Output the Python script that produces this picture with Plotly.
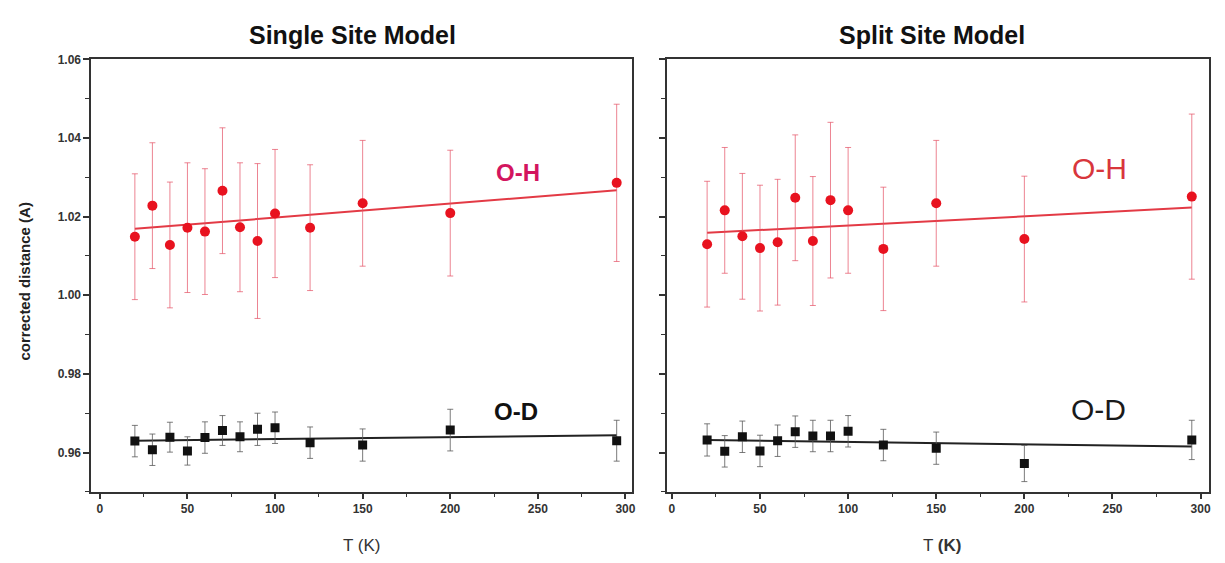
import plotly.graph_objects as go

# The page body has an 8px default margin, so the figure is made 16px smaller
# and every pixel position is measured from the figure's own corner.
OFF = 8
W, H = 1225 - 2 * OFF, 563 - 2 * OFF

# ---------------- data ----------------
T = [20, 30, 40, 50, 60, 70, 80, 90, 100, 120, 150, 200, 295]

# Single site model
single_OH = [1.0149, 1.0228, 1.0128, 1.0172, 1.0162, 1.0266, 1.0173, 1.0138, 1.0208, 1.0172, 1.0234, 1.0209, 1.0286]
single_OH_err = [0.016, 0.016, 0.016, 0.0165, 0.016, 0.016, 0.0164, 0.0197, 0.0163, 0.016, 0.016, 0.016, 0.020]
single_OD = [0.9629, 0.9607, 0.9639, 0.9604, 0.9638, 0.9656, 0.9640, 0.9659, 0.9663, 0.9625, 0.9619, 0.9657, 0.9630]
single_OD_err = [0.004, 0.004, 0.0038, 0.0036, 0.004, 0.0038, 0.0038, 0.0041, 0.004, 0.004, 0.0041, 0.0053, 0.0052]
single_fit_T = [20, 295]
single_fit_OH = [1.0169, 1.0267]
single_fit_OD = [0.9630, 0.9644]

# Split site model
split_OH = [1.0130, 1.0216, 1.0150, 1.0120, 1.0135, 1.0248, 1.0138, 1.0242, 1.0216, 1.0118, 1.0234, 1.0143, 1.0251]
split_OH_err = [0.016, 0.016, 0.016, 0.016, 0.016, 0.016, 0.0164, 0.0198, 0.016, 0.0157, 0.016, 0.016, 0.021]
split_OD = [0.9632, 0.9603, 0.9640, 0.9604, 0.9630, 0.9653, 0.9642, 0.9642, 0.9654, 0.9619, 0.9611, 0.9572, 0.9632]
split_OD_err = [0.0041, 0.004, 0.004, 0.004, 0.004, 0.004, 0.004, 0.004, 0.004, 0.004, 0.0041, 0.0046, 0.005]
split_fit_T = [20, 295]
split_fit_OH = [1.0159, 1.0223]
split_fit_OD = [0.9632, 0.9615]

x_ticks = [0, 50, 100, 150, 200, 250, 300]
y_ticks = [0.96, 0.98, 1.00, 1.02, 1.04, 1.06]
y_ticklabels = ["0.96", "0.98", "1.00", "1.02", "1.04", "1.06"]

# ---------------- styling ----------------
FONT = "Liberation Sans, Arial, sans-serif"
RED = "#e8121f"
RED_ERR = "rgba(228,80,100,0.7)"
RED_LINE = "#e33a45"
BLACK = "#111111"
GREY_ERR = "rgba(90,90,90,0.8)"
AX = "#333333"

fig = go.Figure()


def add_panel(xa, ya, oh, oh_err, od, od_err, fit_T, fit_oh, fit_od):
    fig.add_trace(go.Scatter(x=fit_T, y=fit_oh, mode="lines", xaxis=xa, yaxis=ya,
                             line=dict(color=RED_LINE, width=2), showlegend=False, hoverinfo="skip"))
    fig.add_trace(go.Scatter(x=fit_T, y=fit_od, mode="lines", xaxis=xa, yaxis=ya,
                             line=dict(color="#222222", width=2), showlegend=False, hoverinfo="skip"))
    fig.add_trace(go.Scatter(x=T, y=oh, mode="markers", xaxis=xa, yaxis=ya,
                             marker=dict(symbol="circle", size=10, color=RED),
                             error_y=dict(type="data", array=oh_err, visible=True,
                                          color=RED_ERR, thickness=1, width=3),
                             showlegend=False))
    fig.add_trace(go.Scatter(x=T, y=od, mode="markers", xaxis=xa, yaxis=ya,
                             marker=dict(symbol="square", size=9, color=BLACK),
                             error_y=dict(type="data", array=od_err, visible=True,
                                          color=GREY_ERR, thickness=1, width=3),
                             showlegend=False))


add_panel("x", "y", single_OH, single_OH_err, single_OD, single_OD_err,
          single_fit_T, single_fit_OH, single_fit_OD)
add_panel("x2", "y2", split_OH, split_OH_err, split_OD, split_OD_err,
          split_fit_T, split_fit_OH, split_fit_OD)

tickfont = dict(family=FONT, size=12, color=AX)


def fx(px):
    return (px - OFF) / W


def fy(py):
    return 1 - (py - OFF) / H


def xaxis(domain, rng, anchor):
    return dict(domain=domain, range=rng, anchor=anchor,
                tickmode="array", tickvals=x_ticks, ticktext=[f"<b>{v}</b>" for v in x_ticks],
                ticks="outside", ticklen=5, tickwidth=1.5, tickcolor=AX,
                minor=dict(ticks="outside", ticklen=3, dtick=25, tick0=0, tickcolor=AX, tickwidth=1.2),
                showline=True, linecolor=AX, linewidth=2, mirror=True,
                showgrid=False, zeroline=False, tickfont=tickfont)


def yaxis(domain, anchor, labels):
    return dict(domain=domain, range=[0.95, 1.06], anchor=anchor,
                tickmode="array", tickvals=y_ticks,
                ticktext=[f"<b>{t}</b>" for t in y_ticklabels],
                showticklabels=labels,
                ticks="outside", ticklen=6, tickwidth=1.5, tickcolor=AX,
                minor=dict(ticks="outside", ticklen=4, dtick=0.01, tick0=0.95, tickcolor=AX, tickwidth=1.2),
                showline=True, linecolor=AX, linewidth=2, mirror=True,
                showgrid=False, zeroline=False, tickfont=tickfont)


ydom = [fy(491), fy(53)]
fig.update_layout(
    width=W, height=H,
    margin=dict(l=0, r=0, t=0, b=0),
    paper_bgcolor="white", plot_bgcolor="white",
    font=dict(family=FONT, color=AX),
    xaxis=xaxis([fx(91.7), fx(634)], [-4.8, 303.7], "y"),
    yaxis=yaxis(ydom, "x", True),
    xaxis2=xaxis([fx(669.3), fx(1212.7)], [-2.7, 304.6], "y2"),
    yaxis2=yaxis(ydom, "x2", False),
)


def px_ann(text, x, y, size, color="#111111", bold=False, angle=0):
    fig.add_annotation(text=f"<b>{text}</b>" if bold else text,
                       x=fx(x), y=fy(y), xref="paper", yref="paper",
                       showarrow=False, textangle=angle, xanchor="center", yanchor="middle",
                       font=dict(family=FONT, size=size, color=color))


# panel titles
px_ann("Single Site Model", 354, 28, 25, "#111111", bold=True)
px_ann("Split Site Model", 935, 28, 25, "#111111", bold=True)
# axis titles
px_ann("corrected distance (A)", 25, 278, 15, "#222222", bold=True, angle=-90)
px_ann("T (K)", 363, 545, 17, "#333333")
px_ann("T <b>(K)</b>", 945, 545, 17, "#333333")

# series labels (data coordinates)
fig.add_annotation(text="<b>O-H</b>", x=238.8, y=1.0313, xref="x", yref="y", showarrow=False,
                   font=dict(family=FONT, size=24, color="#d3155f"))
fig.add_annotation(text="<b>O-D</b>", x=237.7, y=0.9705, xref="x", yref="y", showarrow=False,
                   font=dict(family=FONT, size=24, color="#111111"))
fig.add_annotation(text="O-H", x=242.8, y=1.0323, xref="x2", yref="y2", showarrow=False,
                   font=dict(family=FONT, size=30, color="#d8363c"))
fig.add_annotation(text="O-D", x=242.0, y=0.9710, xref="x2", yref="y2", showarrow=False,
                   font=dict(family=FONT, size=30, color="#1a1a1a"))

fig.write_html("out.html")
